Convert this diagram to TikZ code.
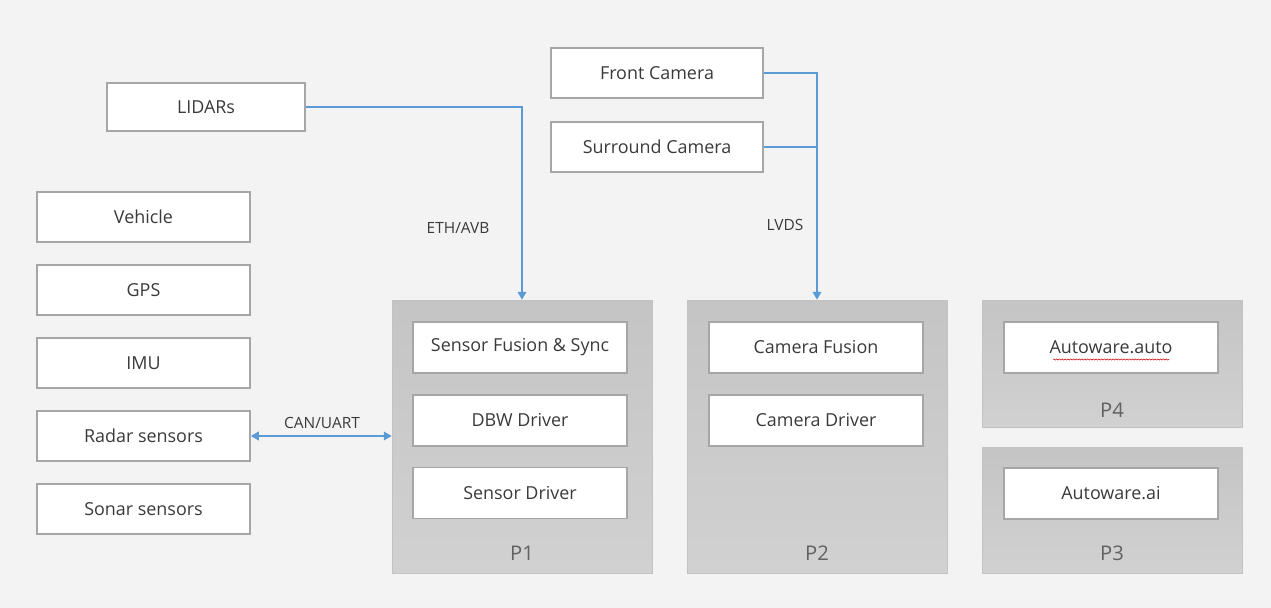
\documentclass[tikz,border=0pt]{standalone}
\usepackage{fontspec}
\setmainfont{Open Sans}
\usepackage{xcolor}
\usetikzlibrary{positioning,arrows.meta,calc,decorations.pathmorphing}

\definecolor{canvas}{HTML}{F3F3F3}
\definecolor{linkblue}{HTML}{5B9BD5}
\definecolor{boxline}{HTML}{A6A6A6}
\definecolor{txtgray}{HTML}{3A3A3A}

\begin{document}
\begin{tikzpicture}[
    x=0.02cm, y=-0.02cm,
    unit/.style={draw=boxline, line width=1pt, fill=white, minimum width=4.28cm, minimum height=1cm,
                 inner sep=0pt, text=txtgray, font=\fontsize{10.2}{12}\selectfont},
    board/.style={draw=black!24, top color=black!23, bottom color=black!18, minimum width=5.2cm, inner sep=0pt},
    plabel/.style={text=black!62, font=\fontsize{11.5}{13}\selectfont},
    link/.style={draw=linkblue, line width=0.8pt},
    tip/.style={-{Triangle[width=5pt,length=4.5pt]}},
    bus/.style={text=txtgray, font=\fontsize{8.8}{10}\selectfont}
]
    % Background
    \fill[canvas] (0,0) rectangle (1271,608);
    \useasboundingbox (0,0) rectangle (1271,608);

    % Processor boards
    \node[board, minimum height=5.46cm] (p1) at (522,436.5) {};
    \node[board, minimum height=5.46cm] (p2) at (817,436.5) {};
    \node[board, minimum height=2.54cm] (p4) at (1112,363.5) {};
    \node[board, minimum height=2.52cm] (p3) at (1112,510) {};

    \node[plabel] (p1lbl) at ([yshift=0.4cm]p1.south) {P1};
    \node[plabel] (p2lbl) at ([yshift=0.4cm]p2.south) {P2};
    \node[plabel] (p4lbl) at ([yshift=0.34cm]p4.south) {P4};
    \node[plabel] (p3lbl) at ([yshift=0.4cm]p3.south) {P3};

    % Software blocks on the boards
    \node[unit, minimum height=1.02cm] (fusion) at (520,347.5) {Sensor Fusion \& Sync};
    \node[unit, minimum height=1.02cm, below=0.4cm of fusion] (dbw) {DBW Driver};
    \node[unit, minimum height=1.02cm, below=0.4cm of dbw] (sdriver) {Sensor Driver};
    \node[unit, minimum height=1.02cm] (camfusion) at (816,347.5) {Camera Fusion};
    \node[unit, minimum height=1.02cm, below=0.4cm of camfusion] (camdriver) {Camera Driver};
    \node[unit, minimum height=1.02cm] (awauto) at (1111,347.5) {Autoware.auto};
    \node[unit, minimum height=1.02cm] (awai) at (1111,493.5) {Autoware.ai};
    \draw[red!80!black, line width=0.3pt, decorate,
          decoration={snake, amplitude=0.35pt, segment length=1.6pt}]
        ($(awauto.center)+(-58,12)$) -- ($(awauto.center)+(58,12)$);

    % Sensors
    \node[unit, minimum width=3.96cm, minimum height=0.96cm] (lidar) at (206,107) {LIDARs};
    \node[unit, minimum width=4.24cm] (frontcam) at (657,73) {Front Camera};
    \node[unit, minimum width=4.24cm] (surcam) at (657,147) {Surround Camera};

    \foreach \name/\txt/\y in {vehicle/Vehicle/217, gps/GPS/290, imu/IMU/363,
                               radar/Radar sensors/436, sonar/Sonar sensors/509} {
        \node[unit, minimum width=4.26cm] (\name) at (143.5,\y) {\txt};
    }

    % Links
    \draw[link, tip] (lidar.east) -| (p1.north);
    \node[bus] (eth) at (458,228) {ETH/AVB};

    \draw[link, tip] (frontcam.east) -| (p2.north);
    \draw[link] (surcam.east) -- (surcam.east -| p2.north);
    \node[bus] (lvds) at (785,225) {LVDS};

    \draw[link, {Triangle[width=5pt,length=4.5pt]}-{Triangle[width=5pt,length=4.5pt]}]
        (radar.east) -- (radar.east -| p1.west);
    \node[bus] (can) at (322,423) {CAN/UART};
\end{tikzpicture}
\end{document}
